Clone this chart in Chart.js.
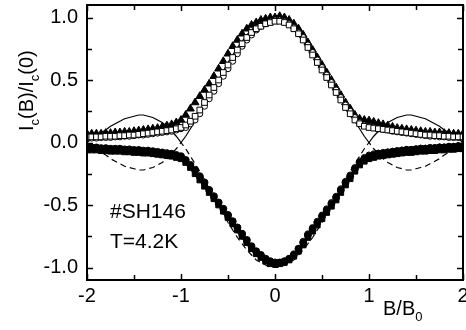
<!DOCTYPE html>
<html>
<head>
<meta charset="utf-8">
<script src="https://cdn.jsdelivr.net/npm/chart.js@4/dist/chart.umd.min.js"></script>
<style>
  body { margin: 0; background: #fff; }
  #grafico { display: block; }
</style>
</head>
<body>
<canvas id="grafico" width="466" height="330"></canvas>
<script>
// campo normalizado B/B0
const campo = [-2,-1.95,-1.9,-1.85,-1.8,-1.75,-1.7,-1.65,-1.6,-1.55,-1.5,-1.45,-1.4,-1.35,-1.3,-1.25,-1.2,-1.15,-1.1,-1.05,
  -1,-0.95,-0.9,-0.85,-0.8,-0.75,-0.7,-0.65,-0.6,-0.55,-0.5,-0.45,-0.4,-0.35,-0.3,-0.25,-0.2,-0.15,-0.1,-0.05,
  0,0.05,0.1,0.15,0.2,0.25,0.3,0.35,0.4,0.45,0.5,0.55,0.6,0.65,0.7,0.75,0.8,0.85,0.9,0.95,
  1,1.05,1.1,1.15,1.2,1.25,1.3,1.35,1.4,1.45,1.5,1.55,1.6,1.65,1.7,1.75,1.8,1.85,1.9,1.95,2];

// rama positiva
const triangulos = [0.07,0.07,0.07,0.07,0.075,0.075,0.08,0.08,0.085,0.085,0.09,0.095,0.1,0.105,0.11,0.115,0.125,0.135,0.145,0.16,
  0.18,0.22,0.27,0.32,0.37,0.42,0.47,0.53,0.59,0.65,0.71,0.77,0.82,0.87,0.91,0.94,0.96,0.98,0.99,1.0,
  1.0,1.01,1.0,0.98,0.95,0.91,0.86,0.8,0.74,0.68,0.62,0.56,0.5,0.44,0.38,0.32,0.27,0.22,0.19,0.18,
  0.175,0.165,0.155,0.145,0.135,0.125,0.115,0.11,0.105,0.1,0.095,0.09,0.085,0.085,0.08,0.08,0.075,0.075,0.07,0.07,0.07];
const cuadradosAbiertos = [0.045,0.045,0.045,0.045,0.05,0.05,0.05,0.055,0.055,0.06,0.06,0.065,0.07,0.075,0.08,0.085,0.09,0.095,0.1,0.11,
  0.12,0.14,0.17,0.21,0.26,0.32,0.38,0.44,0.5,0.56,0.62,0.68,0.74,0.79,0.84,0.88,0.91,0.93,0.95,0.96,
  0.97,0.97,0.96,0.94,0.91,0.87,0.82,0.76,0.7,0.64,0.58,0.52,0.46,0.4,0.34,0.28,0.23,0.18,0.15,0.13,
  0.12,0.115,0.11,0.105,0.1,0.095,0.09,0.085,0.08,0.075,0.07,0.065,0.06,0.06,0.055,0.055,0.05,0.05,0.045,0.045,0.045];
const circulosAbiertos = [0.035,0.035,0.035,0.04,0.04,0.04,0.045,0.045,0.05,0.05,0.055,0.06,0.06,0.065,0.07,0.075,0.08,0.085,0.09,0.1,
  0.11,0.12,0.15,0.18,0.23,0.29,0.35,0.41,0.47,0.53,0.59,0.65,0.71,0.77,0.82,0.86,0.9,0.93,0.95,0.97,
  0.98,0.98,0.97,0.95,0.92,0.88,0.84,0.78,0.72,0.66,0.6,0.54,0.48,0.42,0.36,0.3,0.25,0.2,0.16,0.14,
  0.13,0.12,0.11,0.105,0.1,0.09,0.085,0.08,0.075,0.07,0.065,0.06,0.055,0.05,0.05,0.045,0.045,0.04,0.04,0.04,0.04];

// rama negativa
const circulosLlenos = [-0.04,-0.04,-0.04,-0.045,-0.045,-0.05,-0.05,-0.05,-0.055,-0.055,-0.06,-0.06,-0.065,-0.065,-0.07,-0.075,-0.08,-0.085,-0.09,-0.1,
  -0.11,-0.14,-0.18,-0.22,-0.27,-0.32,-0.38,-0.43,-0.48,-0.53,-0.58,-0.63,-0.68,-0.73,-0.78,-0.83,-0.87,-0.9,-0.93,-0.95,
  -0.96,-0.96,-0.95,-0.93,-0.9,-0.85,-0.8,-0.74,-0.69,-0.64,-0.59,-0.54,-0.49,-0.44,-0.38,-0.32,-0.27,-0.21,-0.16,-0.13,
  -0.11,-0.1,-0.09,-0.085,-0.08,-0.075,-0.07,-0.065,-0.06,-0.06,-0.055,-0.05,-0.05,-0.045,-0.045,-0.04,-0.04,-0.035,-0.035,-0.03,-0.03];
const cuadradosLlenos = [-0.06,-0.06,-0.06,-0.065,-0.065,-0.07,-0.07,-0.07,-0.075,-0.075,-0.08,-0.08,-0.085,-0.085,-0.09,-0.095,-0.1,-0.105,-0.11,-0.12,
  -0.13,-0.16,-0.2,-0.25,-0.3,-0.35,-0.4,-0.45,-0.5,-0.55,-0.6,-0.65,-0.7,-0.75,-0.8,-0.85,-0.89,-0.92,-0.95,-0.97,
  -0.97,-0.97,-0.96,-0.94,-0.91,-0.87,-0.82,-0.76,-0.71,-0.66,-0.61,-0.56,-0.51,-0.46,-0.4,-0.34,-0.29,-0.23,-0.18,-0.15,
  -0.13,-0.12,-0.11,-0.105,-0.1,-0.095,-0.09,-0.085,-0.08,-0.08,-0.075,-0.07,-0.07,-0.065,-0.065,-0.06,-0.06,-0.055,-0.055,-0.05,-0.05];
const circulosAbiertosNeg = [-0.05,-0.05,-0.05,-0.055,-0.055,-0.06,-0.06,-0.06,-0.065,-0.065,-0.07,-0.07,-0.075,-0.075,-0.08,-0.085,-0.09,-0.095,-0.1,-0.11,
  -0.12,-0.15,-0.19,-0.23,-0.28,-0.33,-0.39,-0.44,-0.49,-0.54,-0.6,-0.65,-0.7,-0.75,-0.8,-0.84,-0.88,-0.91,-0.94,-0.96,
  -0.97,-0.96,-0.95,-0.93,-0.89,-0.85,-0.79,-0.73,-0.68,-0.63,-0.58,-0.53,-0.48,-0.43,-0.37,-0.31,-0.26,-0.2,-0.15,-0.12,
  -0.1,-0.09,-0.085,-0.08,-0.075,-0.07,-0.065,-0.06,-0.055,-0.055,-0.05,-0.045,-0.045,-0.04,-0.04,-0.035,-0.035,-0.03,-0.03,-0.025,-0.025];

// curvas teoricas
const teoriaPos = [0,0.03,0.05,0.08,0.1,0.13,0.15,0.17,0.19,0.2,0.21,0.22,0.22,0.21,0.2,0.18,0.16,0.13,0.09,0.05,
  0,0.05,0.11,0.17,0.23,0.3,0.37,0.44,0.5,0.57,0.64,0.7,0.76,0.81,0.86,0.9,0.94,0.96,0.98,1.0,
  1.0,1.0,0.98,0.96,0.94,0.9,0.86,0.81,0.76,0.7,0.64,0.57,0.5,0.44,0.37,0.3,0.23,0.17,0.11,0.05,
  0,0.05,0.09,0.13,0.16,0.18,0.2,0.21,0.22,0.22,0.21,0.2,0.19,0.17,0.15,0.13,0.1,0.08,0.05,0.03,0];
const teoriaNeg = [0,-0.03,-0.05,-0.08,-0.1,-0.13,-0.15,-0.17,-0.19,-0.2,-0.21,-0.22,-0.22,-0.21,-0.2,-0.18,-0.16,-0.13,-0.09,-0.05,
  0,-0.05,-0.11,-0.17,-0.23,-0.3,-0.37,-0.44,-0.5,-0.57,-0.64,-0.7,-0.76,-0.81,-0.86,-0.9,-0.94,-0.96,-0.98,-1.0,
  -1.0,-1.0,-0.98,-0.96,-0.94,-0.9,-0.86,-0.81,-0.76,-0.7,-0.64,-0.57,-0.5,-0.44,-0.37,-0.3,-0.23,-0.17,-0.11,-0.05,
  0,-0.05,-0.09,-0.13,-0.16,-0.18,-0.2,-0.21,-0.22,-0.22,-0.21,-0.2,-0.19,-0.17,-0.15,-0.13,-0.1,-0.08,-0.05,-0.03,0];

const ticksX = [-2, -1, 0, 1, 2];
const ticksY = [-1, -0.5, 0, 0.5, 1];
const ticksMenoresX = [-1.5, -0.5, 0.5, 1.5];
const ticksMenoresY = [-0.75, -0.25, 0.25, 0.75];

const fuente = "'Liberation Sans', Arial, Helvetica, sans-serif";

function puntos(valores) {
  return campo.map((b, i) => ({ x: b, y: valores[i] }));
}

function textoConSub(ctx, partes, x, y, tam) {
  let cx = x;
  partes.forEach((p) => {
    const t = p.sub ? tam * 0.65 : tam;
    ctx.font = `${t}px ${fuente}`;
    ctx.fillText(p.t, cx, p.sub ? y + tam * 0.3 : y);
    cx += ctx.measureText(p.t).width;
  });
}

const marco = {
  id: "marco",
  afterDraw(chart) {
    const ctx = chart.ctx;
    const a = chart.chartArea;
    const sx = chart.scales.x;
    const sy = chart.scales.y;
    ctx.save();
    ctx.strokeStyle = "#000";
    ctx.lineWidth = 2;
    ctx.strokeRect(a.left, a.top, a.right - a.left, a.bottom - a.top);

    ctx.lineWidth = 1.5;
    ctx.beginPath();
    const marcaX = (v, l) => {
      const px = Math.round(sx.getPixelForValue(v)) + 0.5;
      ctx.moveTo(px, a.bottom); ctx.lineTo(px, a.bottom - l);
      ctx.moveTo(px, a.top); ctx.lineTo(px, a.top + l);
    };
    const marcaY = (v, l) => {
      const py = Math.round(sy.getPixelForValue(v)) + 0.5;
      ctx.moveTo(a.left, py); ctx.lineTo(a.left + l, py);
      ctx.moveTo(a.right, py); ctx.lineTo(a.right - l, py);
    };
    ticksX.forEach((v) => marcaX(v, 6));
    ticksMenoresX.forEach((v) => marcaX(v, 5));
    ticksY.forEach((v) => marcaY(v, 6));
    ticksMenoresY.forEach((v) => marcaY(v, 5));
    ctx.stroke();

    ctx.fillStyle = "#000";

    // etiquetas del eje x
    ctx.font = `20px ${fuente}`;
    ctx.textAlign = "center";
    ctx.textBaseline = "top";
    ticksX.forEach((v) => ctx.fillText(String(v), sx.getPixelForValue(v), a.bottom + 6));

    ctx.textBaseline = "alphabetic";
    ctx.textAlign = "left";

    // titulo eje y
    ctx.save();
    ctx.translate(33, 131);
    ctx.rotate(-Math.PI / 2);
    textoConSub(ctx, [{ t: "I" }, { t: "c", sub: true }, { t: "(B)/I" }, { t: "c", sub: true }, { t: "(0)" }], 0, 0, 20);
    ctx.restore();

    // titulo eje x
    textoConSub(ctx, [{ t: "B/B" }, { t: "0", sub: true }], 383, 315, 20);

    ctx.font = `21px ${fuente}`;
    ctx.fillText("#SH146", 110, 218);
    ctx.fillText("T=4.2K", 110, 248);
    ctx.restore();
  },
};

const ctx = document.getElementById("grafico").getContext("2d");

new Chart(ctx, {
  type: "scatter",
  data: {
    datasets: [
      {
        label: "cuadrados abiertos",
        data: puntos(cuadradosAbiertos),
        pointStyle: "rect",
        pointRadius: 4,
        backgroundColor: "#fff",
        borderColor: "#000",
        borderWidth: 1,
      },
      {
        label: "circulos abiertos",
        data: puntos(circulosAbiertos),
        pointStyle: "circle",
        pointRadius: 3,
        backgroundColor: "#fff",
        borderColor: "#000",
        borderWidth: 1,
      },
      {
        label: "triangulos",
        data: puntos(triangulos),
        pointStyle: "triangle",
        pointRadius: 4.5,
        backgroundColor: "#000",
        borderColor: "#000",
        borderWidth: 1,
      },
      {
        label: "cuadrados llenos",
        data: puntos(cuadradosLlenos),
        pointStyle: "rect",
        pointRadius: 4,
        backgroundColor: "#000",
        borderColor: "#000",
        borderWidth: 1,
      },
      {
        label: "circulos llenos",
        data: puntos(circulosLlenos),
        pointStyle: "circle",
        pointRadius: 3.5,
        backgroundColor: "#000",
        borderColor: "#000",
        borderWidth: 1,
      },
      {
        label: "circulos abiertos neg",
        data: puntos(circulosAbiertosNeg),
        pointStyle: "circle",
        pointRadius: 3,
        backgroundColor: "#fff",
        borderColor: "#000",
        borderWidth: 1,
      },
      {
        label: "teoria +",
        data: puntos(teoriaPos),
        showLine: true,
        pointRadius: 0,
        borderColor: "#000",
        borderWidth: 1.2,
        fill: false,
      },
      {
        label: "teoria -",
        data: puntos(teoriaNeg),
        showLine: true,
        pointRadius: 0,
        borderColor: "#000",
        borderWidth: 1.2,
        borderDash: [6, 4],
        fill: false,
      },
    ],
  },
  options: {
    responsive: false,
    animation: false,
    layout: { autoPadding: false, padding: { top: 5, right: 3, left: 0, bottom: 0 } },
    plugins: { legend: { display: false }, tooltip: { enabled: false } },
    scales: {
      x: {
        type: "linear",
        min: -2,
        max: 2,
        afterBuildTicks: (s) => { s.ticks = ticksX.map((v) => ({ value: v })); },
        afterFit: (s) => { s.height = 50; },
        grid: { display: false, drawTicks: false },
        border: { display: false },
        ticks: { display: false },
      },
      y: {
        type: "linear",
        min: -1.1,
        max: 1.1,
        afterBuildTicks: (s) => { s.ticks = ticksY.map((v) => ({ value: v })); },
        afterFit: (s) => { s.width = 87; s.paddingTop = 0; s.paddingBottom = 0; },
        grid: { display: false, drawTicks: false },
        border: { display: false },
        ticks: {
          padding: 9,
          color: "#000",
          font: { family: fuente, size: 20 },
          callback: (v) => Number(v).toFixed(1),
        },
      },
    },
  },
  plugins: [marco],
});
</script>
</body>
</html>
